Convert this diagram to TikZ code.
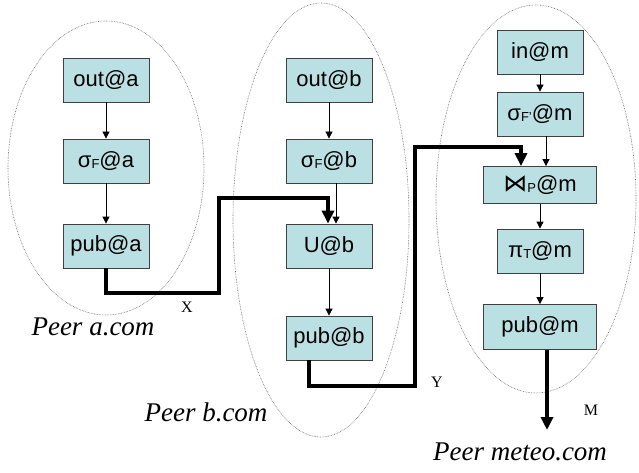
\documentclass[tikz,border=0pt]{standalone}
\usepackage{fontspec}
\setmainfont{Liberation Sans}
\newfontfamily\peerserif{Liberation Serif}
\newfontfamily\symfam{DejaVu Sans}
\usetikzlibrary{arrows.meta}
\definecolor{opfill}{RGB}{187,224,227}
\newcommand\opsub[1]{\raisebox{-0.8pt}{\fontsize{13}{13}\selectfont #1}}
\begin{document}
\begin{tikzpicture}[x=1pt,y=-1pt,
  op/.style={draw=black!75, line width=0.8pt, fill=opfill, minimum width=86pt,
    minimum height=44pt, inner sep=0pt, font=\fontsize{22}{26}\selectfont},
  peer/.style={draw=black!55, line width=0.6pt, dash pattern=on 0.7pt off 0.9pt},
  flow/.style={draw=black, line width=0.8pt, -{Triangle[length=7pt,width=7pt]}},
  bigflow/.style={draw=black, line width=3.5pt, -{Triangle[length=13pt,width=12pt]}},
  peerlabel/.style={font=\peerserif\itshape\fontsize{27}{29}\selectfont},
  streamlabel/.style={font=\peerserif\fontsize{16}{17}\selectfont}]
\useasboundingbox (0,0) rectangle (639,473);
% peers
\draw[peer] (106,168) ellipse [x radius=98pt, y radius=147pt];
\draw[peer] (321,220) ellipse [x radius=88pt, y radius=217pt];
\draw[peer] (536,199) ellipse [x radius=100pt, y radius=194pt];
% operators
\node[op] (outA) at (106,80) {out@a};
\node[op] (sFA) at (106,161) {σ\opsub{F}@a};
\node[op] (pubA) at (106,246) {pub@a};
\node[op] (outB) at (329,80) {out@b};
\node[op] (sFB) at (329,161) {σ\opsub{F}@b};
\node[op] (UB) at (329,246) {U@b};
\node[op] (pubB) at (329,338) {pub@b};
\node[op] (inM) at (540,52) {in@m};
\node[op] (sFM) at (540,114) {σ\opsub{F'}@m};
\node[op, minimum width=113pt, minimum height=37pt] (joinM) at (540,185) {{\symfam\fontsize{24}{26}\selectfont ⋈}\opsub{P}@m};
\node[op] (piM) at (540,251) {π\opsub{T}@m};
\node[op, minimum width=113pt, minimum height=45pt] (pubM) at (540,327) {pub@m};
% thin arrows
\draw[flow] (outA) -- (sFA);
\draw[flow] (sFA) -- (pubA);
\draw[flow] (outB) -- (sFB);
\draw[flow] ([xshift=7pt]sFB.south) -- ([xshift=7pt]UB.north);
\draw[flow] (UB) -- (pubB);
\draw[flow] (inM) -- (sFM);
\draw[flow] ([xshift=6pt]sFM.south) -- ([xshift=6pt]joinM.north);
\draw[flow] (joinM) -- (piM);
\draw[flow] (piM) -- (pubM);
% thick flows
\coordinate (xa) at (219,293);
\coordinate (xb) at (328,198);
\draw[bigflow] (pubA.south) |- (xa) |- (xb) -- ([xshift=-1pt]UB.north);
\coordinate (ya) at (415,386);
\coordinate (yb) at (521,147);
\draw[bigflow] ([xshift=-20pt]pubB.south) |- (ya) |- (yb) -- ([xshift=-19pt]joinM.north);
\coordinate (mout) at (547,430);
\draw[bigflow] ([xshift=7pt]pubM.south) -- (mout);
% labels
\node[streamlabel] (lx) at (187,307) {X};
\node[streamlabel] (ly) at (437,382) {Y};
\node[streamlabel] (lm) at (591,410) {M};
\node[peerlabel] (pa) at (93,327) {Peer a.com};
\node[peerlabel] (pb) at (206,412) {Peer b.com};
\node[peerlabel] (pm) at (520,452) {Peer meteo.com};
\end{tikzpicture}
\end{document}
